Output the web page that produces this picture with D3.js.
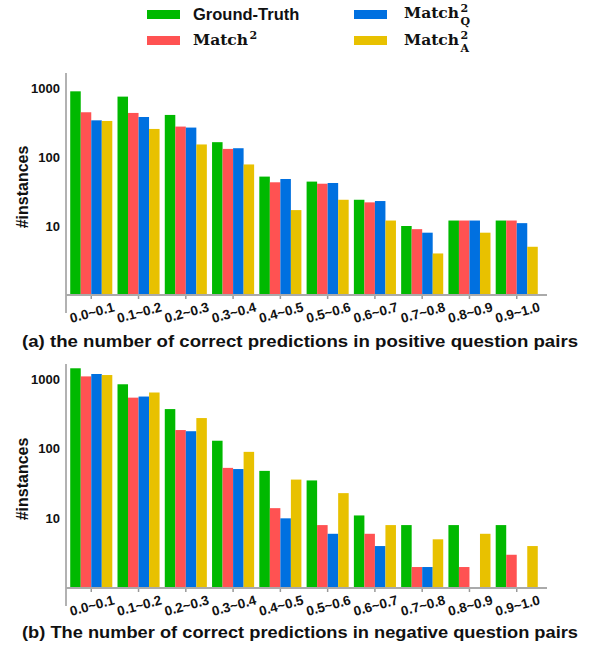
<!DOCTYPE html>
<html>
<head>
<meta charset="utf-8">
<script src="https://cdn.jsdelivr.net/npm/d3@7"></script>
<style>
  body { margin: 0; background: #fff; }
  text { font-family: "Liberation Sans", Arial, sans-serif; font-weight: bold; fill: #111; }
  .serif { font-family: "DejaVu Serif", "Liberation Serif", serif; }
</style>
</head>
<body>
<div id="plot_div"></div>
<script>
const width  = 592;
const height = 645;

// categories and series
const bins   = ["0.0~0.1","0.1~0.2","0.2~0.3","0.3~0.4","0.4~0.5",
                "0.5~0.6","0.6~0.7","0.7~0.8","0.8~0.9","0.9~1.0"];
const series = ["gt", "m2", "m2q", "m2a"];
const colors = ["#00b900", "#ff5252", "#0070e0", "#e8c100"];

// (a) positive pairs
const pos_gt  = [895, 750, 407, 164, 52, 44, 24, 10, 12, 12];
const pos_m2  = [445, 435, 276, 131, 43, 41, 22, 9, 12, 12];
const pos_m2q = [340, 380, 267, 134, 48, 42, 23, 8, 12, 11];
const pos_m2a = [333, 255, 152, 78, 17, 24, 12, 4, 8, 5];

// (b) negative pairs (null = no bar)
const neg_gt  = [1425, 840, 370, 130, 48, 35, 11, 8, 8, 8];
const neg_m2  = [1090, 540, 185, 53, 14, 8, 6, 2, 2, 3];
const neg_m2q = [1180, 560, 178, 51, 10, 6, 4, 2, null, null];
const neg_m2a = [1140, 640, 275, 90, 36, 23, 8, 5, 6, 4];

const yTicks = [10, 100, 1000];

const svg = d3.create("svg")
    .attr("width", width)
    .attr("height", height)
    .attr("viewBox", [0, 0, width, height]);

plot_div.append(svg.node());

const x0 = d3.scaleBand()
    .domain(bins)
    .range([65.5, 542.5])
    .paddingInner(0.11)
    .paddingOuter(0.1);

const x1 = d3.scaleBand()
    .domain(series)
    .range([0, x0.bandwidth()]);

function draw_panel(values, base, top, caption, captionY) {
    const y = d3.scaleLog()
        .domain([1, 1000])
        .range([base, top]);
    const g = svg.append("g");

    // bars
    series.forEach((s, si) => {
        g.selectAll(null)
            .data(bins.map((b, i) => ({bin: b, v: values[si][i]})).filter(d => d.v))
            .join("rect")
            .attr("x", d => x0(d.bin) + x1(s))
            .attr("width", x1.bandwidth())
            .attr("y", d => y(d.v))
            .attr("height", d => base - y(d.v))
            .attr("fill", colors[si]);
    });

    // y axis line
    g.append("line")
        .attr("x1", 66).attr("x2", 66)
        .attr("y1", y(1000) - 15).attr("y2", base + 18)
        .attr("stroke", "#999").attr("stroke-width", 1.5);

    g.selectAll(null)
        .data(yTicks)
        .join("text")
        .attr("x", 60)
        .attr("y", d => y(d) + 4.5)
        .attr("text-anchor", "end")
        .style("font-size", "13px")
        .text(d => d);

    g.append("text")
        .attr("transform", `translate(28,${(base + top) / 2 - 4.5}) rotate(-90)`)
        .attr("text-anchor", "middle")
        .style("font-size", "16px")
        .text("#instances");

    // x axis
    const ax = g.append("g")
        .attr("transform", `translate(0,${base})`)
        .call(d3.axisBottom(x0).tickSize(4).tickSizeOuter(0));
    ax.select(".domain").remove();
    ax.selectAll(".tick line").attr("stroke", "#999").attr("stroke-width", 1.5);
    ax.selectAll(".tick text")
        .attr("y", 0).attr("dy", null)
        .attr("transform", "translate(2,22) rotate(-15)")
        .attr("text-anchor", "middle")
        .style("font-family", "Liberation Sans, Arial, sans-serif")
        .style("font-weight", "bold")
        .style("font-size", "13.5px")
        .attr("fill", "#111");
    g.append("line")
        .attr("x1", 66).attr("x2", 547)
        .attr("y1", base).attr("y2", base)
        .attr("stroke", "#aaa").attr("stroke-width", 2);

    g.append("text")
        .attr("x", 22)
        .attr("y", captionY)
        .attr("textLength", 556)
        .attr("lengthAdjust", "spacingAndGlyphs")
        .style("font-size", "16.5px")
        .text(caption);
}

draw_panel([pos_gt, pos_m2, pos_m2q, pos_m2a], 295, 88,
    "(a) the number of correct predictions in positive question pairs", 347);
draw_panel([neg_gt, neg_m2, neg_m2q, neg_m2a], 588, 379,
    "(b) The number of correct predictions in negative question pairs", 638);

// legend
const legend = [
    {x: 147, y: 10, c: colors[0]},
    {x: 147, y: 36, c: colors[1]},
    {x: 354, y: 10, c: colors[2]},
    {x: 354, y: 36, c: colors[3]}
];
svg.selectAll(null)
    .data(legend)
    .join("rect")
    .attr("x", d => d.x).attr("y", d => d.y)
    .attr("width", 33).attr("height", 9)
    .attr("fill", d => d.c);

svg.append("text")
    .attr("x", 193).attr("y", 20)
    .style("font-size", "16.5px")
    .text("Ground-Truth");

function match_label(xp, yp, sub) {
    const t = svg.append("text").attr("class", "serif")
        .attr("x", xp).attr("y", yp)
        .style("font-size", "15.5px");
    const m = t.append("tspan").text("Match");
    const tx = xp + m.node().getComputedTextLength() + 1.5;
    t.append("tspan").attr("x", tx).attr("dy", -6).style("font-size", "11px").text("2");
    if (sub) t.append("tspan").attr("x", tx).attr("dy", 13).style("font-size", "11px").text(sub);
}
match_label(193, 45, null);
match_label(404, 18, "Q");
match_label(404, 45, "A");
</script>
</body>
</html>
